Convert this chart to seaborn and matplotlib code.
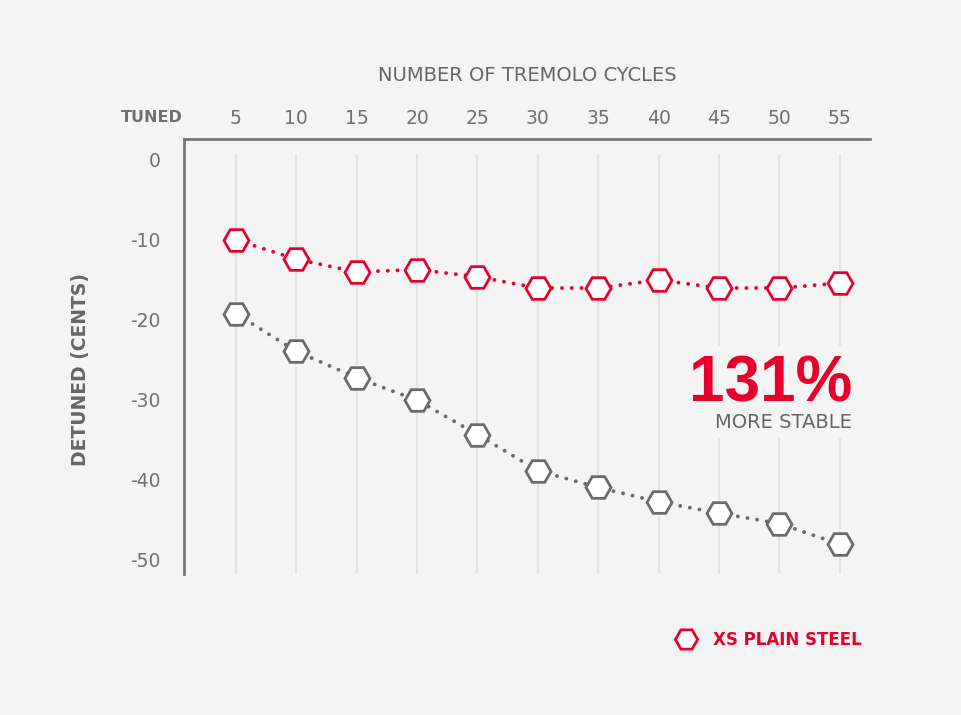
import numpy as np
import pandas as pd
import matplotlib
matplotlib.use("Agg")
import matplotlib.pyplot as plt
from matplotlib.lines import Line2D
import seaborn as sns

cycles = [5, 10, 15, 20, 25, 30, 35, 40, 45, 50, 55]
xs_plain_steel = [-10.1, -12.5, -14.1, -13.8, -14.7, -16.1, -16.1, -15.1, -16.1, -16.1, -15.5]
standard_steel = [-19.3, -24.0, -27.3, -30.1, -34.4, -38.9, -41.0, -42.8, -44.2, -45.5, -48.1]
y_ticks = [0, -10, -20, -30, -40, -50]

RED = "#e8002d"
GRAY = "#6b6b6b"
BG = "#f4f4f4"

sns.set_theme(style="white")
plt.rcParams["font.family"] = ["DejaVu Sans"]

df_red = pd.DataFrame({"cycles": cycles, "detune": xs_plain_steel})
df_gray = pd.DataFrame({"cycles": cycles, "detune": standard_steel})

fig = plt.figure(figsize=(9.62, 7.15), dpi=100, facecolor=BG)
ax = fig.add_axes([184 / 962, 1 - 574 / 715, (870 - 184) / 962, (574 - 139) / 715])
ax.set_facecolor("none")

ax.set_xlim(0.7, 57.5)
ax.set_ylim(-51.8, 2.5)

# light vertical guides
ax.vlines(cycles, -51.8, 0.6, color="#e4e4e4", lw=1.6, zorder=0)

line_kw = dict(marker="H", markersize=18, markerfacecolor="white", markeredgewidth=2.0,
               linestyle=(0, (0.01, 2.5)), linewidth=2.8, dash_capstyle="round")
sns.lineplot(data=df_gray, x="cycles", y="detune", color=GRAY, markeredgecolor=GRAY,
             legend=False, ax=ax, zorder=3, **line_kw)
sns.lineplot(data=df_red, x="cycles", y="detune", color=RED, markeredgecolor=RED,
             legend=False, ax=ax, zorder=4, **line_kw)

# spines
for s in ["right", "bottom"]:
    ax.spines[s].set_visible(False)
for s in ["top", "left"]:
    ax.spines[s].set_color("#777777")
    ax.spines[s].set_linewidth(2)

ax.xaxis.tick_top()
ax.xaxis.set_label_position("top")
ax.set_xticks(cycles)
ax.set_xticklabels([str(c) for c in cycles])
ax.set_yticks(y_ticks)
ax.set_yticklabels([str(v) for v in y_ticks])
ax.tick_params(axis="both", length=0, labelsize=13.5, labelcolor="#707070")
ax.tick_params(axis="x", pad=8)
ax.tick_params(axis="y", pad=17)

ax.set_xlabel("NUMBER OF TREMOLO CYCLES", fontsize=14, color="#666666",
              labelpad=20, fontweight="medium")
ax.set_ylabel("DETUNED (CENTS)", fontsize=13.5, color="#666666",
              fontweight="bold")
ax.yaxis.set_label_coords(-0.137, 0.47)

fig.text(152 / 962, 1 - 117 / 715, "TUNED", fontsize=11.5, color="#707070",
         fontweight="bold", ha="center", va="center")

ax.text(56.0, -30.3, "131%", fontsize=46, color=RED, fontweight="bold",
        ha="right", va="baseline", family="Liberation Sans",
        bbox=dict(facecolor=BG, edgecolor="none", pad=6), zorder=2)
ax.text(56.0, -33.6, "MORE STABLE", fontsize=14, color="#666666",
        ha="right", va="baseline",
        bbox=dict(facecolor=BG, edgecolor="none", pad=4), zorder=2)

handle = Line2D([], [], marker="H", markersize=16, markerfacecolor="white",
                markeredgecolor=RED, markeredgewidth=2.0, linestyle="none")
leg = fig.legend([handle], ["XS PLAIN STEEL"], loc="center right",
                 bbox_to_anchor=(870 / 962, 1 - 640 / 715), frameon=False,
                 fontsize=12, handletextpad=0.6, borderpad=0)
for t in leg.get_texts():
    t.set_color(RED)
    t.set_fontweight("bold")

fig.savefig("out.png", dpi=100, facecolor=BG)
